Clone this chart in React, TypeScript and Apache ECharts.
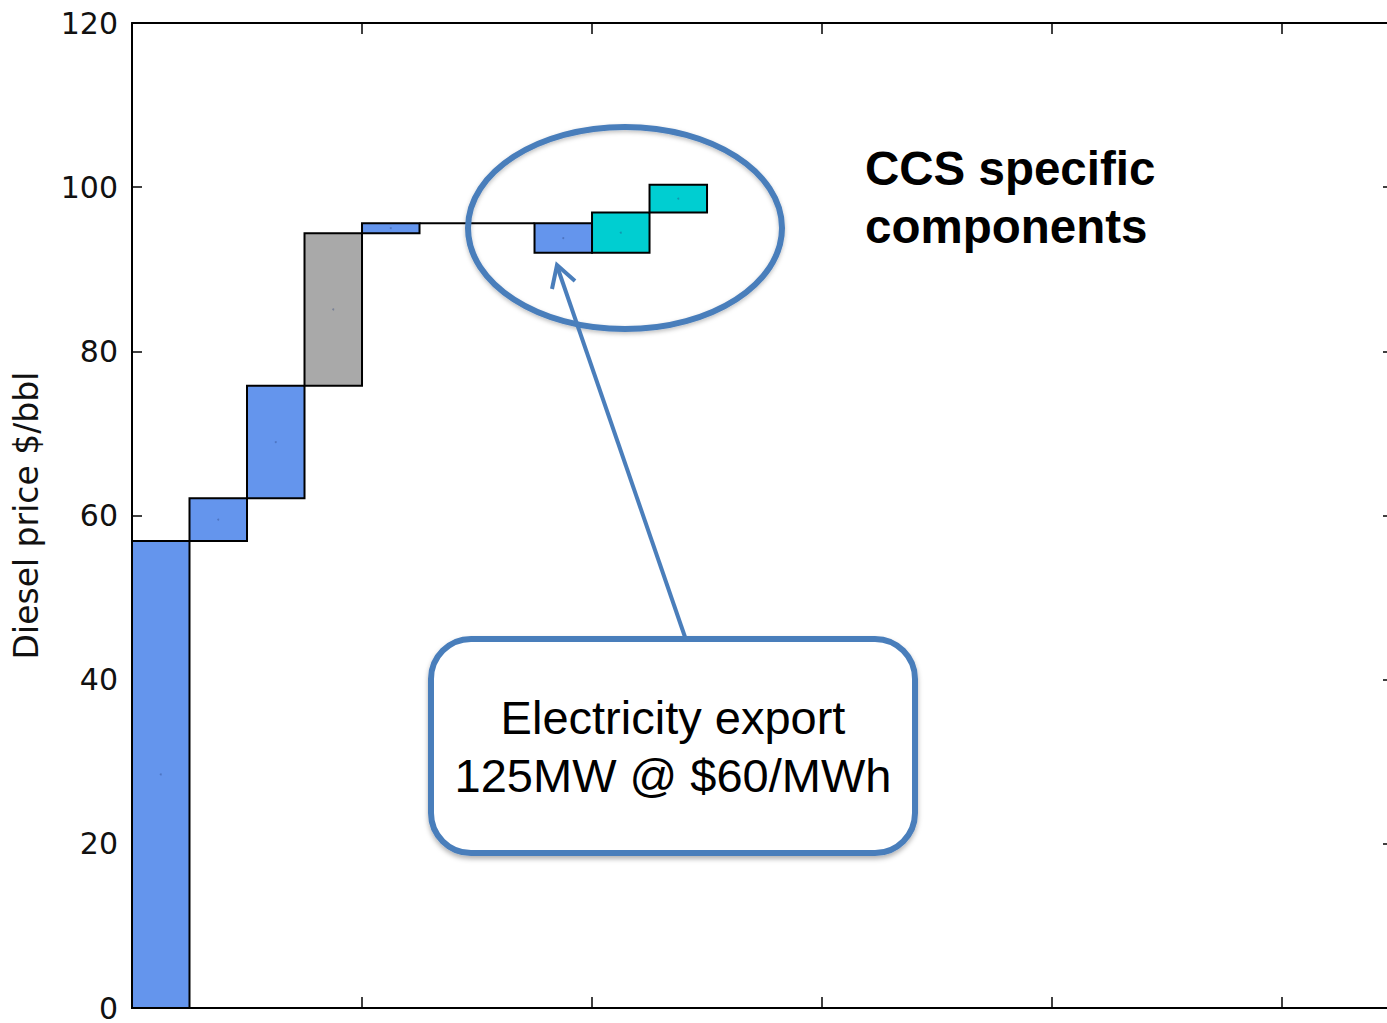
import React, { useEffect, useRef } from "react";
import * as echarts from "echarts";

// ---- data ----
const barStarts = [0, 0.25, 0.5, 0.75, 1.0, 1.75, 2.0, 2.25];
const barEnds = [0.25, 0.5, 0.75, 1.0, 1.25, 2.0, 2.25, 2.5];
const barBottoms = [0, 56.9, 62.1, 75.8, 94.4, 92.0, 92.0, 96.9];
const barTops = [56.9, 62.1, 75.8, 94.4, 95.6, 95.6, 96.9, 100.3];
const barKinds = ["blue", "blue", "blue", "gray", "blue", "blue", "cyan", "cyan"];
const connector = [
  [1.25, 95.6],
  [1.75, 95.6],
];
const yTicks = [0, 20, 40, 60, 80, 100, 120];
const yAxisName = "Diesel price $/bbl";
const calloutLines = ["Electricity export", "125MW @ $60/MWh"];
const noteLines = ["CCS specific", "components"];

const kindColors: Record<string, string> = {
  blue: "#6495ED",
  gray: "#A9A9A9",
  cyan: "#00CED1",
};

const ANN = "#4A7EBB";

export default function App() {
  const ref = useRef<HTMLDivElement>(null);

  useEffect(() => {
    if (!ref.current) return;
    const chart = echarts.init(ref.current, undefined, { renderer: "svg" });

    const barData = barStarts.map((s, i) => [s, barEnds[i], barBottoms[i], barTops[i], i]);
    const centers = barStarts.map((s, i) => [(s + barEnds[i]) / 2, (barBottoms[i] + barTops[i]) / 2]);

    const axisLine = { show: true, onZero: false, lineStyle: { color: "#000", width: 2 } };
    const tickStyle = { show: true, inside: true, length: 11, lineStyle: { color: "#000", width: 1.5 } };
    const xMax = 5.491;

    const option: any = {
      animation: false,
      backgroundColor: "#fff",
      grid: { left: 132, top: 23, right: 0, bottom: 15, containLabel: false },
      xAxis: [
        {
          type: "value",
          position: "bottom",
          min: 0,
          max: xMax,
          interval: 1,
          axisLine,
          axisTick: tickStyle,
          axisLabel: { show: false },
          splitLine: { show: false },
        },
        {
          type: "value",
          position: "top",
          min: 0,
          max: xMax,
          interval: 1,
          axisLine,
          axisTick: tickStyle,
          axisLabel: { show: false },
          splitLine: { show: false },
        },
      ],
      yAxis: [
        {
          type: "value",
          position: "left",
          min: yTicks[0],
          max: yTicks[yTicks.length - 1],
          interval: 20,
          axisLine,
          axisTick: { ...tickStyle, length: 10 },
          axisLabel: {
            show: true,
            color: "#111",
            fontFamily: "DejaVu Sans",
            fontSize: 30,
            lineHeight: 22,
            margin: 14,
          },
          splitLine: { show: false },
          name: yAxisName,
          nameLocation: "middle",
          nameRotate: 90,
          nameGap: 89,
          nameTextStyle: { fontFamily: "DejaVu Sans", fontSize: 33, color: "#111" },
        },
        {
          type: "value",
          position: "right",
          min: yTicks[0],
          max: yTicks[yTicks.length - 1],
          interval: 20,
          axisLine,
          axisTick: { ...tickStyle, length: 12 },
          axisLabel: { show: false },
          splitLine: { show: false },
        },
      ],
      series: [
        {
          type: "custom",
          xAxisIndex: 0,
          yAxisIndex: 0,
          data: barData,
          renderItem: (params: any, api: any) => {
            const x0 = api.value(0);
            const x1 = api.value(1);
            const y0 = api.value(2);
            const y1 = api.value(3);
            const idx = api.value(4);
            const p0 = api.coord([x0, y1]);
            const p1 = api.coord([x1, y0]);
            return {
              type: "rect",
              shape: { x: p0[0], y: p0[1], width: p1[0] - p0[0], height: p1[1] - p0[1] },
              style: {
                fill: kindColors[barKinds[idx]],
                stroke: "#000",
                lineWidth: 2,
              },
            };
          },
          z: 3,
        },
        {
          type: "line",
          xAxisIndex: 0,
          yAxisIndex: 0,
          data: connector,
          symbol: "none",
          lineStyle: { color: "#000", width: 2 },
          z: 2,
        },
        {
          type: "scatter",
          xAxisIndex: 0,
          yAxisIndex: 0,
          data: centers,
          symbolSize: 2,
          itemStyle: { color: "rgba(40,60,120,0.45)" },
          z: 4,
        },
      ],
      graphic: [
        {
          type: "ellipse",
          shape: { cx: 625, cy: 228, rx: 157, ry: 101 },
          style: {
            fill: "none",
            stroke: ANN,
            lineWidth: 6,
            shadowBlur: 4,
            shadowOffsetY: 2,
            shadowColor: "rgba(0,0,0,0.25)",
          },
          z: 10,
        },
        {
          type: "line",
          shape: { x1: 685, y1: 637, x2: 557, y2: 266 },
          style: { stroke: ANN, lineWidth: 4 },
          z: 10,
        },
        {
          type: "polyline",
          shape: { points: [[552, 289], [557, 265], [575, 281]] },
          style: { stroke: ANN, lineWidth: 4, fill: "none" },
          z: 10,
        },
        {
          type: "rect",
          shape: { x: 431, y: 639, width: 484, height: 214, r: 40 },
          style: {
            fill: "#fff",
            stroke: ANN,
            lineWidth: 6,
            shadowBlur: 5,
            shadowOffsetY: 3,
            shadowColor: "rgba(0,0,0,0.3)",
          },
          z: 11,
        },
        {
          type: "text",
          x: 673,
          y: 717,
          style: {
            text: calloutLines[0],
            fontFamily: "Liberation Sans",
            fontSize: 47,
            fill: "#000",
            align: "center",
            verticalAlign: "middle",
          },
          z: 12,
        },
        {
          type: "text",
          x: 673,
          y: 775,
          style: {
            text: calloutLines[1],
            fontFamily: "Liberation Sans",
            fontSize: 47,
            fill: "#000",
            align: "center",
            verticalAlign: "middle",
          },
          z: 12,
        },
        {
          type: "text",
          x: 865,
          y: 168,
          style: {
            text: noteLines[0],
            fontFamily: "Liberation Sans",
            fontWeight: "bold",
            fontSize: 47.5,
            fill: "#000",
            align: "left",
            verticalAlign: "middle",
          },
          z: 12,
        },
        {
          type: "text",
          x: 865,
          y: 226,
          style: {
            text: noteLines[1],
            fontFamily: "Liberation Sans",
            fontWeight: "bold",
            fontSize: 47.5,
            fill: "#000",
            align: "left",
            verticalAlign: "middle",
          },
          z: 12,
        },
      ],
    };

    chart.setOption(option);
    return () => chart.dispose();
  }, []);

  return (
    <div
      style={{
        position: "absolute",
        left: 0,
        top: 0,
        width: 1387,
        height: 1023,
        overflow: "hidden",
        background: "#fff",
      }}
    >
      <div ref={ref} style={{ width: 1395, height: 1023 }} />
    </div>
  );
}
